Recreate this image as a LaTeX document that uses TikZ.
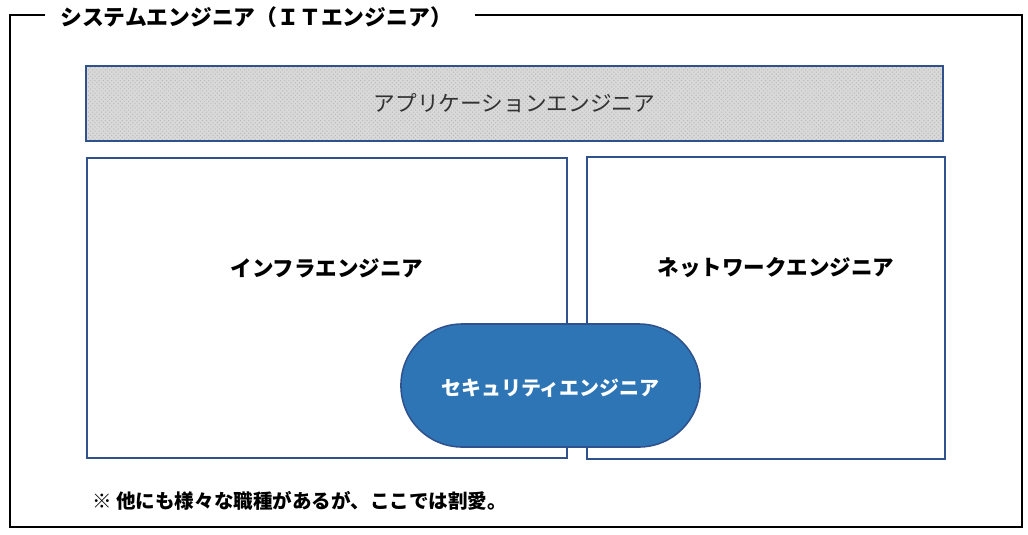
\documentclass[tikz,border=0pt]{standalone}
\usepackage{fontspec}
\setmainfont{Noto Sans CJK JP}
\usetikzlibrary{patterns}
\definecolor{frameblue}{RGB}{47,82,143}
\definecolor{secblue}{RGB}{46,117,182}
\definecolor{appgray}{RGB}{217,217,217}
\definecolor{apptext}{RGB}{50,50,50}
\begin{document}
\begin{tikzpicture}[x=0.025cm,y=-0.025cm]
\tikzset{
  role/.style={shape=rectangle,draw=frameblue,line width=1.1pt,inner sep=0pt,outer sep=0pt,font=\bfseries\fontsize{15.3}{17}\selectfont},
  approle/.style={role,preaction={fill=appgray},pattern=crosshatch dots,pattern color=gray!55,text=apptext,font=\fontsize{15.4}{17}\selectfont},
  secrole/.style={role,fill=secblue,text=white,rounded corners=1.53cm,font=\bfseries\fontsize{14.2}{16}\selectfont}
}
\useasboundingbox (0,0) rectangle (1028,534);
% frame and title
\coordinate (TL) at (45,15);
\coordinate (TR) at (475,15);
\node[anchor=west,inner sep=0pt,font=\bfseries\fontsize{15.5}{17}\selectfont] (T) at (60,17) {システムエンジニア（ＩＴエンジニア）};
\draw[line width=1.2pt] (TL) -- (10,15) -- (10,527) -- (1022,527) -- (1022,15) -- (TR);
% roles
\node[approle,minimum width=21.425cm,minimum height=1.875cm] (A) at (514.5,103.5) {アプリケーションエンジニア};
\node[role,minimum width=12cm,minimum height=7.5cm] (I) at (327,308) {};
\node[role,minimum width=8.95cm,minimum height=7.55cm] (N) at (766,308) {};
\node[font=\bfseries\fontsize{15.3}{17}\selectfont] (IL) at (327,268) {インフラエンジニア};
\node[font=\bfseries\fontsize{15.3}{17}\selectfont] (NL) at (776,268) {ネットワークエンジニア};
\node[secrole,minimum width=7.475cm,minimum height=3.075cm] (S) at (550.5,385.5) {};
\node[text=white,font=\bfseries\fontsize{14.2}{16}\selectfont] (SL) at (550.5,388) {セキュリティエンジニア};
% note
\node[anchor=west,inner sep=0pt,font=\bfseries\fontsize{13.9}{15}\selectfont] (M) at (92,501) {※ 他にも様々な職種があるが、ここでは割愛。};
\end{tikzpicture}
\end{document}
